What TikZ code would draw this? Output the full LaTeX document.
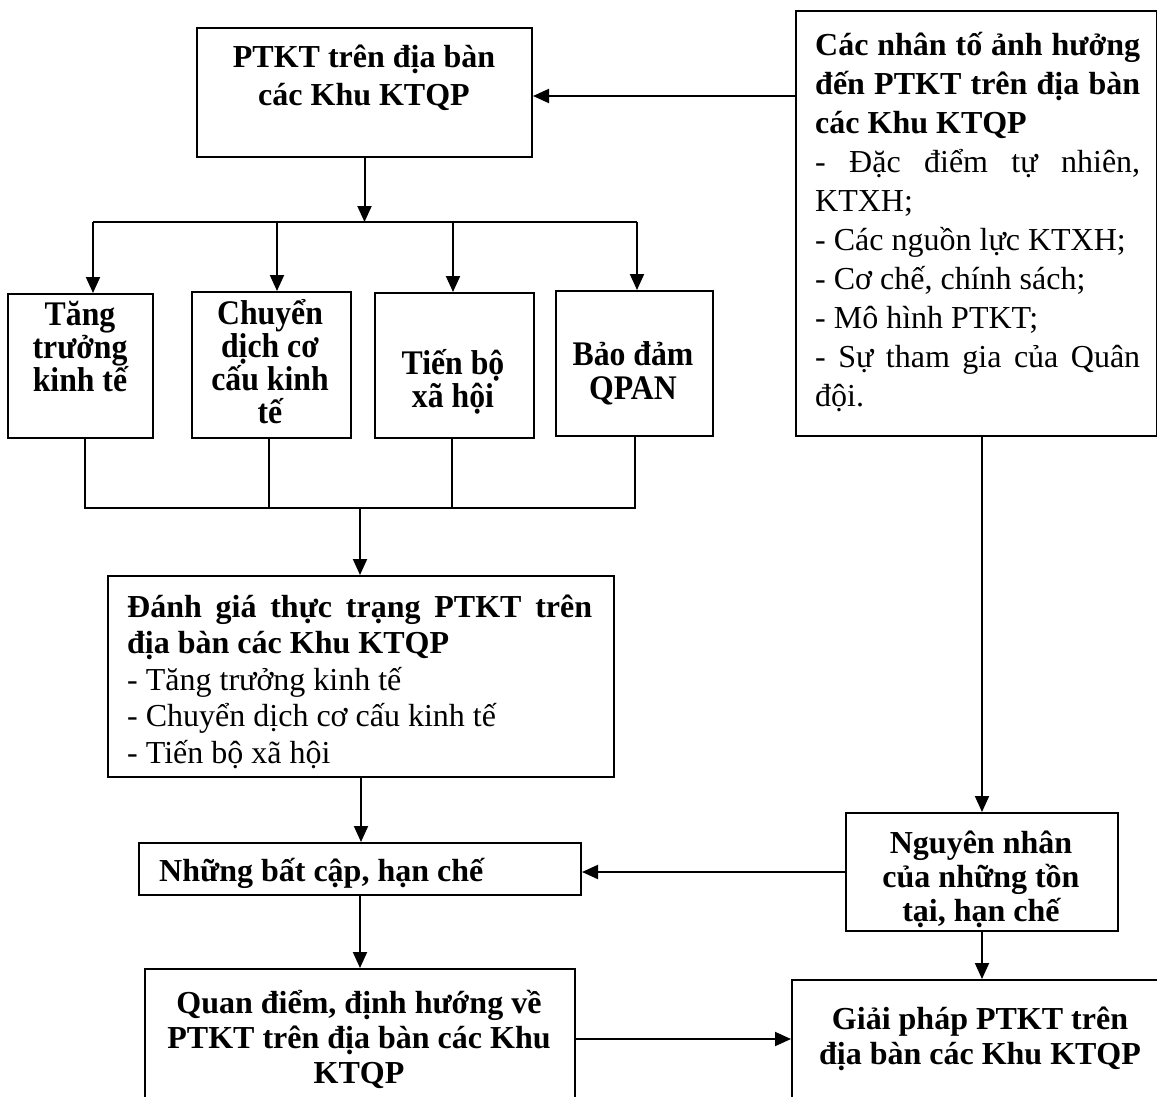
\documentclass[tikz,border=0pt]{standalone}
\usepackage{fontspec}
\setmainfont{Liberation Serif}
\newfontfamily\condserif[FakeStretch=0.92]{Liberation Serif}
\usetikzlibrary{arrows.meta}
\begin{document}
\begin{tikzpicture}[x=1pt,y=-1pt,
  box/.style={draw, line width=2pt, inner sep=0pt, anchor=north west},
  conn/.style={line width=2pt, -{Triangle[length=16pt,width=14pt]}},
  thinline/.style={line width=1.3pt},
  bt/.style={inner sep=0pt, anchor=base, align=center, font=\fontsize{32}{#1}\selectfont\bfseries},
  ct/.style={inner sep=0pt, anchor=base, align=center, font=\condserif\fontsize{34.5}{#1}\selectfont\bfseries},
  rt/.style={inner sep=0pt, anchor=base west, align=justify, font=\fontsize{32}{#1}\selectfont},
]
\useasboundingbox (0,0) rectangle (1157,1097);
\clip (0,0) rectangle (1157,1097);
\fill[white] (0,0) rectangle (1157,1097);

% boxes
\node[box, minimum width=335pt, minimum height=129pt] (top) at (196,27) {};
\node[box, minimum width=361pt, minimum height=425pt] (nt) at (795,10) {};
\node[box, minimum width=145pt, minimum height=144pt] (b1) at (7,293) {};
\node[box, minimum width=159pt, minimum height=146pt] (b2) at (191,291) {};
\node[box, minimum width=159pt, minimum height=145pt] (b3) at (374,292) {};
\node[box, minimum width=157pt, minimum height=145pt] (b4) at (555,290) {};
\node[box, minimum width=506pt, minimum height=201pt] (ev) at (107,575) {};
\node[box, minimum width=442pt, minimum height=52pt] (nbc) at (138,842) {};
\node[box, minimum width=272pt, minimum height=118pt] (nn) at (845,812) {};
\node[box, minimum width=430pt, minimum height=140pt] (qd) at (144,968) {};
\node[box, minimum width=380pt, minimum height=150pt] (gp) at (791,979) {};

% texts (bt/ct nodes: anchor at the last line's baseline)
\node[bt=38] (ttop) at (364,106) {PTKT trên địa bàn\\các Khu KTQP};
\node[rt=39, text width=325pt] (tnt) at (815,56) {\textbf{Các nhân tố ảnh hưởng\linebreak đến PTKT trên địa bàn\linebreak các Khu KTQP}\\- Đặc điểm tự nhiên,\linebreak KTXH;\\- Các nguồn lực KTXH;\\- Cơ chế, chính sách;\\- Mô hình PTKT;\\- Sự tham gia của Quân\linebreak đội.};
\node[ct=33] (tb1) at (80,391) {Tăng\\trưởng\\kinh tế};
\node[ct=33] (tb2) at (270,423) {Chuyển\\dịch cơ\\cấu kinh\\tế};
\node[ct=33] (tb3) at (453,407) {Tiến bộ\\xã hội};
\node[ct=34] (tb4) at (633,399) {Bảo đảm\\QPAN};
\node[rt=36.5, text width=465pt] (tev) at (127,617) {\textbf{Đánh giá thực trạng PTKT trên\linebreak địa bàn các Khu KTQP}\\- Tăng trưởng kinh tế\\- Chuyển dịch cơ cấu kinh tế\\- Tiến bộ xã hội};
\node[bt=36, anchor=base west] (tnbc) at (159,881) {Những bất cập, hạn chế};
\node[bt=34] (tnn) at (981,921) {Nguyên nhân\\của những tồn\\tại, hạn chế};
\node[bt=35] (tqd) at (359,1083) {Quan điểm, định hướng về\\PTKT trên địa bàn các Khu\\KTQP};
\node[bt=35] (tgp) at (980,1064) {Giải pháp PTKT trên\\địa bàn các Khu KTQP};

% connectors
\coordinate (busT) at (364,222);
\coordinate (busB) at (360,508);
\draw[conn] ([yshift=-3.5pt]nt.west |- top.east) -- ([yshift=-3.5pt]top.east);
\draw[conn] (top.south) -- (top.south |- busT);
\draw[line width=2pt] ([xshift=12.5pt]b1.north |- busT) -- ([xshift=2.5pt]b4.north |- busT);
\draw[conn] ([xshift=12.5pt]b1.north |- busT) -- ([xshift=12.5pt]b1.north);
\draw[conn] ([xshift=5.5pt]b2.north |- busT) -- ([xshift=5.5pt]b2.north);
\draw[conn] ([xshift=-1.5pt]b3.north |- busT) -- ([xshift=-1.5pt]b3.north);
\draw[conn] ([xshift=2.5pt]b4.north |- busT) -- ([xshift=2.5pt]b4.north);

\draw[thinline] ([xshift=4.5pt]b1.south) |- ([xshift=0.5pt]b4.south |- busB) -- ([xshift=0.5pt]b4.south);
\draw[thinline] ([xshift=-2.5pt]b2.south) -- ([xshift=-2.5pt]b2.south |- busB);
\draw[thinline] ([xshift=-2.5pt]b3.south) -- ([xshift=-2.5pt]b3.south |- busB);
\draw[conn] (busB) -- (busB |- ev.north);

\draw[conn] (ev.south) -- (ev.south |- nbc.north);
\draw[conn] (nbc.south) -- (nbc.south |- qd.north);
\draw[conn] (nn.north |- nt.south) -- (nn.north);
\draw[conn] (nn.west) -- (nn.west -| nbc.east);
\draw[conn] (nn.south) -- (nn.south |- gp.north);
\draw[conn] (qd.east) -- (qd.east -| gp.west);
\end{tikzpicture}
\end{document}
